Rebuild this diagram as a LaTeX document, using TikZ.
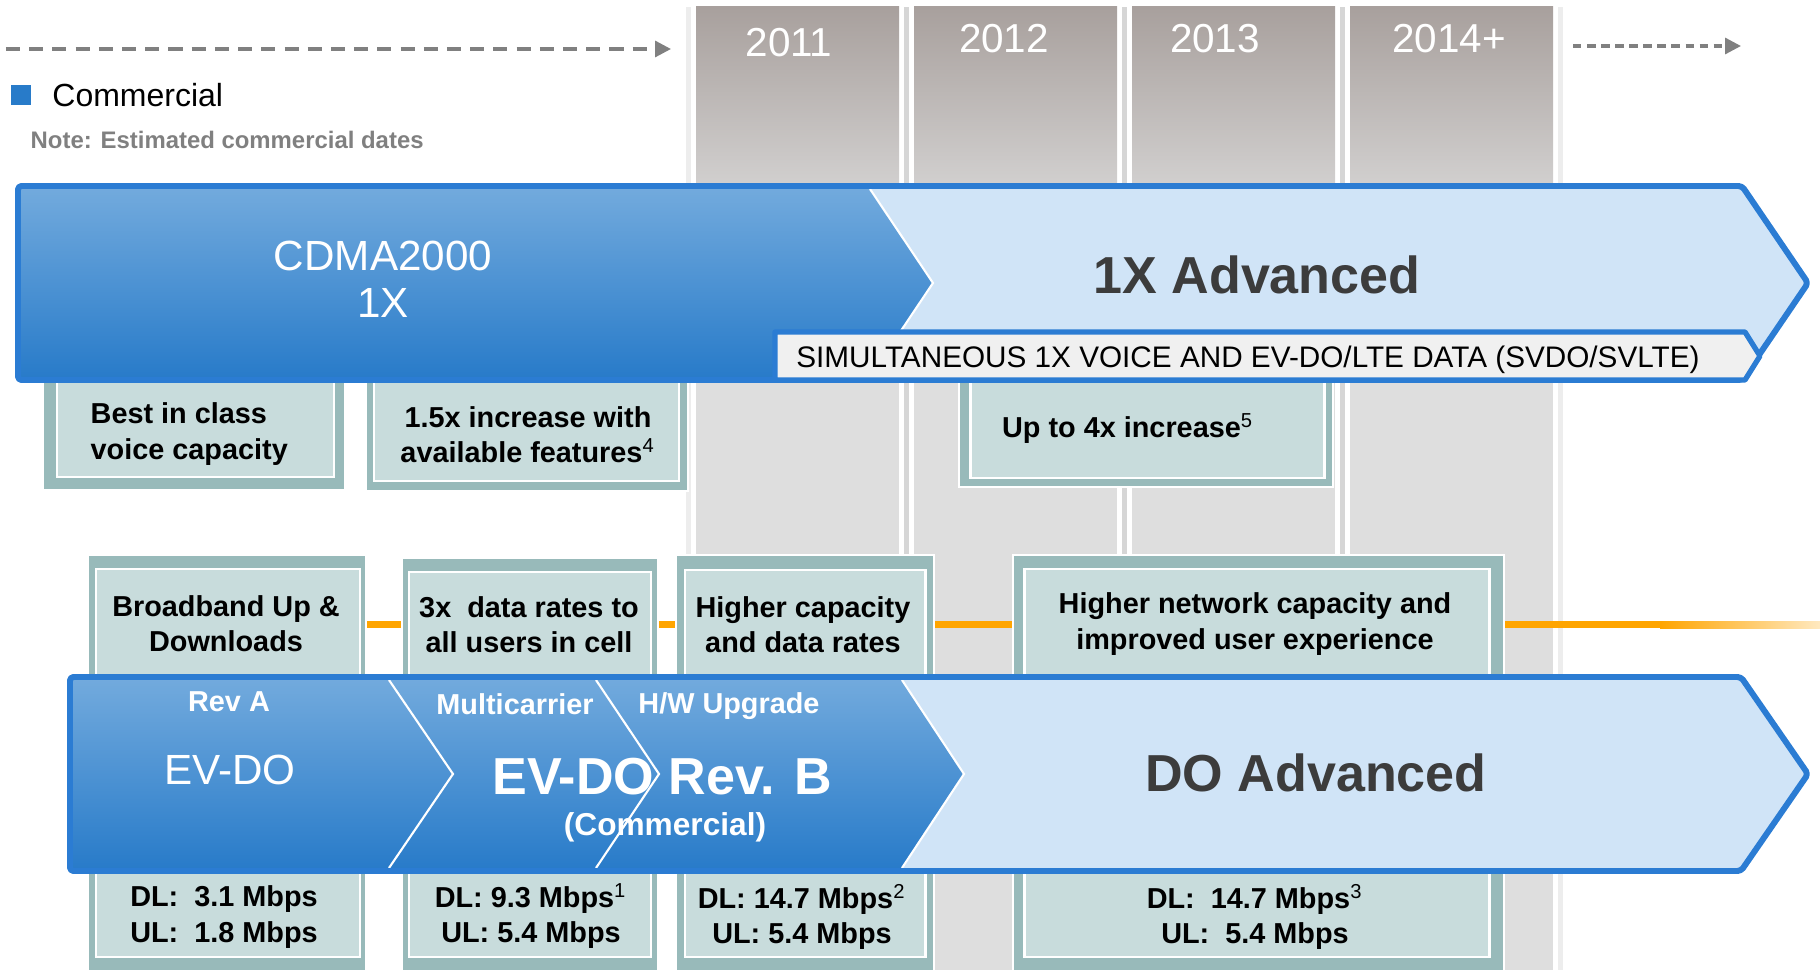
\documentclass[tikz,border=0pt]{standalone}
\usepackage{fontspec}
\setmainfont{Liberation Sans}
\usetikzlibrary{arrows.meta,positioning}
\definecolor{arrowblue}{RGB}{43,124,211}
\definecolor{shadetop}{RGB}{114,170,221}
\definecolor{shadebot}{RGB}{40,123,201}
\definecolor{lightblue}{RGB}{208,228,247}
\definecolor{barfill}{RGB}{240,240,240}
\definecolor{tealouter}{RGB}{152,186,186}
\definecolor{tealinner}{RGB}{200,220,220}
\definecolor{coltop}{RGB}{168,160,157}
\definecolor{collow}{RGB}{222,222,222}
\definecolor{sepgray}{RGB}{214,214,214}
\definecolor{lineorange}{RGB}{255,165,0}
\definecolor{darktext}{RGB}{60,60,60}
\definecolor{notegray}{RGB}{128,128,128}
\tikzset{>=latex}
\newcommand{\fnmark}[1]{\textsuperscript{\mdseries #1}}

\begin{document}
\begin{tikzpicture}[x=0.01cm, y=-0.01cm, node distance=1cm,
	timeline/.style={draw=notegray, line width=0.9pt, dash pattern=on 4pt off 2.6pt, -{Triangle[length=4.5pt,width=4.5pt]}},
	timelineshort/.style={timeline, dash pattern=on 2.4pt off 1.6pt},
	yeartext/.style={text=white, font=\fontsize{11.5}{13}\selectfont, inner sep=0pt},
	boxouter/.style={fill=tealouter, draw=white, line width=0.8pt},
	boxinner/.style={fill=tealinner, draw=white, line width=0.85pt},
	boxtext/.style={font=\bfseries\fontsize{8.2}{10}\selectfont, align=center, inner sep=0pt},
	lightarrow/.style={fill=lightblue},
	darkshade/.style={top color=shadetop, bottom color=shadebot},
	outline/.style={draw=arrowblue, line width=1.7pt, line join=round},
	chevline/.style={draw=white, line width=0.6pt},
	bigwhite/.style={text=white, font=\fontsize{12}{13.4}\selectfont, align=center, inner sep=0pt},
	bigdark/.style={text=darktext, font=\bfseries\fontsize{14.8}{16}\selectfont, inner sep=0pt},
	labelwhite/.style={text=white, font=\bfseries\fontsize{8.2}{10}\selectfont, inner sep=0pt}
	]
	\useasboundingbox (0,0) rectangle (1820,970);

	% year columns
	\foreach \xl/\xr in {696/899, 914/1117, 1132/1335, 1350/1553} {
		\shade[top color=coltop, bottom color=collow] (\xl,7) rectangle (\xr,240);
		\fill[collow] (\xl,239) rectangle (\xr,970);
	}
	\foreach \xs in {906,1124,1342}
		\fill[sepgray] ({\xs-2},7) rectangle ({\xs+3},970);
	\fill[sepgray!45] (686,7) rectangle (691,970);
	\fill[sepgray!45] (1558,7) rectangle (1563,970);

	\node[yeartext] (y2011) at (789,43)  {2011};
	\node[yeartext] (y2012) at (1004,39) {2012};
	\node[yeartext] (y2013) at (1215,39) {2013};
	\node[yeartext] (y2014) at (1449,39) {2014+};

	% timeline arrows and legend
	\coordinate (paststart) at (6,49);
	\coordinate (pastend)   at (671,49);
	\coordinate (futstart)  at (1573,46);
	\coordinate (futend)    at (1741,46);
	\draw[timeline]      (paststart) -- (pastend);
	\draw[timelineshort] (futstart)  -- (futend);

	\node[fill=shadebot, minimum size=0.2cm, inner sep=0pt] (legsq) at (21,95) {};
	\node[right=0.2cm of legsq, inner sep=0pt, font=\fontsize{9.1}{11}\selectfont] (legend) {Commercial};
	\node[anchor=west, inner sep=0pt, text=notegray, font=\bfseries\fontsize{6.8}{8}\selectfont] (note) at (30,140) {Note: Estimated commercial dates};

	% orange line
	\coordinate (orstart) at (200,624.5);
	\coordinate (orfade)  at (1661,624.5);
	\draw[lineorange, line width=2pt] (orstart) -- (orfade);
	\shade[left color=lineorange, right color=lineorange!25] (1660,621) rectangle (1820,628);

	% feature boxes, upper row
	\foreach \xa/\xb/\ya/\xc/\xd/\yb in {43/345/490/57/334/477, 366/688/491/374/679/481, 959/1333/487/970/1324/478} {
		\filldraw[boxouter] (\xa,360) rectangle (\xb,\ya);
		\filldraw[boxinner] (\xc,360) rectangle (\xd,\yb);
	}
	% feature boxes, lower row
	\foreach \xa/\xb/\ya/\xc/\xd/\yb in {88/366/555/96/360/569, 402/658/558/409/651/572, 676/934/555/685/925/570, 1013/1504/555/1024/1489/569} {
		\filldraw[boxouter] (\xa,\ya) rectangle (\xb,985);
		\filldraw[boxinner] (\xc,\yb) rectangle (\xd,957);
	}

	\node[boxtext, align=left, anchor=west] (voice)   at (90,434)   {Best in class\\voice capacity};
	\node[boxtext]                          (feat)    at (528,435)  {1.5x increase with\\available features\fnmark{4}};
	\node[boxtext]                          (upto)    at (1128,429) {Up to 4x increase\fnmark{5}};

	\node[boxtext] (broad)   at (226,624)  {Broadband Up \&\\Downloads};
	\node[boxtext] (threex)  at (529,625)  {3x~~data rates to\\all users in cell};
	\node[boxtext] (higher)  at (803,625)  {Higher capacity\\and data rates};
	\node[boxtext] (network) at (1255,624) {Higher network capacity and\\improved user experience};

	\node[boxtext] (rateA) at (224,917)  {DL:~~3.1 Mbps\\UL:~~1.8 Mbps};
	\node[boxtext] (rateB) at (531,916)  {DL: 9.3 Mbps\fnmark{1}\\UL: 5.4 Mbps};
	\node[boxtext] (rateC) at (802,917)  {DL: 14.7 Mbps\fnmark{2}\\UL: 5.4 Mbps};
	\node[boxtext] (rateD) at (1255,917) {DL:~~14.7 Mbps\fnmark{3}\\UL:~~5.4 Mbps};

	% 1X arrow
	\fill[lightarrow] (18,186) -- (1742,186) -- (1808,283) -- (1742,380) -- (18,380) -- cycle;
	\shade[darkshade] (20,188) -- (870,188) -- (933,283) -- (870,378) -- (20,378) -- cycle;
	\draw[chevline] (870,189) -- (933,283) -- (870,377);
	\draw[outline, rounded corners=1pt] (18,186) -- (1742,186) -- (1808,283) -- (1742,380) -- (18,380) -- cycle;
	\filldraw[fill=barfill, draw=arrowblue, line width=1.5pt, line join=round] (775,332) -- (1745,332) -- (1760,356) -- (1745,380) -- (775,380) -- cycle;

	\node[bigwhite] (cdma)   at (383,279)  {CDMA2000\\1X};
	\node[bigdark]  (adv1x)  at (1257,275) {1X Advanced};
	\node[inner sep=0pt, font=\fontsize{8.45}{10}\selectfont] (svdo) at (1248,360) {SIMULTANEOUS 1X VOICE AND EV-DO/LTE DATA (SVDO/SVLTE)};

	% EV-DO arrow
	\fill[lightarrow] (70,677) -- (1741,677) -- (1808,774) -- (1741,871) -- (70,871) -- cycle;
	\shade[darkshade] (72,679) -- (902,679) -- (964,774) -- (902,869) -- (72,869) -- cycle;
	\draw[chevline] (389,680) -- (453,774) -- (389,868);
	\draw[chevline] (596,680) -- (659,774) -- (596,868);
	\draw[chevline] (902,680) -- (964,774) -- (902,868);
	\draw[outline, rounded corners=1pt] (70,677) -- (1741,677) -- (1808,774) -- (1741,871) -- (70,871) -- cycle;

	\node[labelwhite] (reva)  at (229,702) {Rev A};
	\node[bigwhite]   (evdo)  at (230,770) {EV-DO};
	\node[labelwhite] (multi) at (515,704) {Multicarrier};
	\node[labelwhite] (hwup)  at (729,706) {H/W Upgrade};
	\node[bigdark, text=white] (revb) at (662,777) {EV-DO Rev. B};
	\node[labelwhite, font=\bfseries\fontsize{9}{11}\selectfont] (comm) at (665,827) {(Commercial)};
	\node[bigdark]    (doadv) at (1316,773) {DO Advanced};
\end{tikzpicture}
\end{document}
